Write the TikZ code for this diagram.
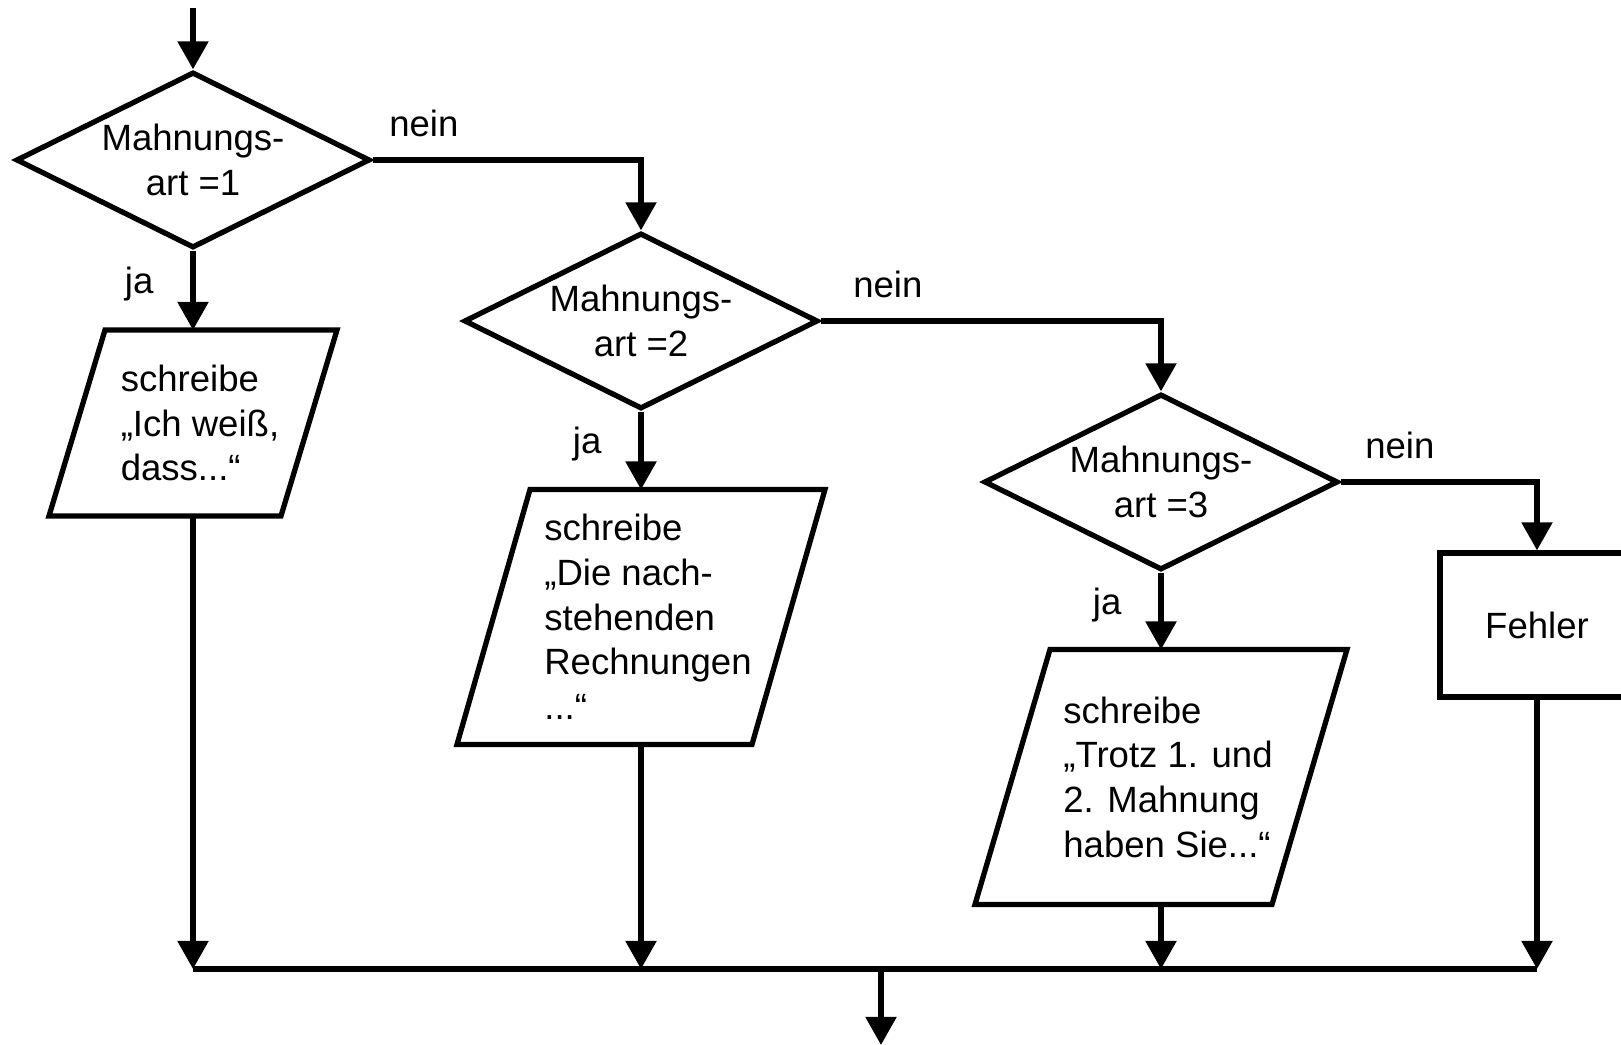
\documentclass[tikz,border=0pt]{standalone}
\usepackage{fontspec}
\setmainfont{Liberation Sans}
\usetikzlibrary{shapes.geometric,arrows.meta,positioning}

\begin{document}
\begin{tikzpicture}[
		line width=1.5pt,
		every node/.style={font=\fontsize{10.4}{12.7}\selectfont},
		arr/.style={-{Triangle[length=2.8mm,width=3mm]}},
		decision/.style={draw, diamond, aspect=2, inner sep=0pt, minimum width=3.54cm, minimum height=1.76cm, align=center},
		outbox/.style={rectangle, inner sep=0pt, outer sep=0pt},
		outtext/.style={inner sep=0pt, align=left},
		process/.style={draw, rectangle, minimum width=1.94cm, minimum height=1.44cm},
		lbl/.style={inner sep=0pt}
	]
		  \useasboundingbox (0,0) rectangle (16.21,10.45);

		  % draws the decisions
		  \node[decision] (d1) at (1.93,8.85) {Mahnungs-\\art =1};
		  \node[decision] (d2) at (6.41,7.24) {Mahnungs-\\art =2};
		  \node[decision] (d3) at (11.61,5.63) {Mahnungs-\\art =3};

		  % draws the outputs
		  \node[outbox, minimum width=2.88cm, minimum height=1.86cm] (p1) at (1.93,6.22) {};
		  \node[outbox, minimum width=3.68cm, minimum height=2.55cm] (p2) at (6.41,4.28) {};
		  \node[outbox, minimum width=3.72cm, minimum height=2.55cm] (p3) at (11.61,2.68) {};
		  \foreach \n/\s in {p1/0.56,p2/0.73,p3/0.75}
		    \draw ([xshift=\s cm]\n.north west) -- (\n.north east) -- ([xshift=-\s cm]\n.south east) -- (\n.south west) -- cycle;
		  \node[outtext] (t1) at ([xshift=0.07cm]p1.center) {schreibe\\„Ich weiß,\\dass...“};
		  \node[outtext] (t2) at ([xshift=0.07cm]p2.center) {schreibe\\„Die nach-\\stehenden\\Rechnungen\\...“};
		  \node[outtext] (t3) at ([xshift=0.07cm]p3.center) {schreibe\\„Trotz 1. und\\2. Mahnung\\haben Sie...“};
		  \node[process] (fe) at (15.37,4.20) {Fehler};

		  % draws the junction
		  \coordinate (in) at (1.93,10.37);
		  \coordinate (jl) at (1.93,0.76);
		  \coordinate (jr) at (15.37,0.76);
		  \coordinate (jm) at (8.81,0.76);
		  \coordinate (out) at (8.81,0);

		  % draws the connectors
		  \draw[arr] (in) -- (d1.north);
		  \foreach \a/\b in {d1/p1,d2/p2,d3/p3}
		    \draw[arr] (\a.south) -- node[lbl, pos=0.42, left=0.37cm] {ja} (\b.north);
		  \foreach \a/\b/\s in {d1/d2/0.14,d2/d3/0.30,d3/fe/0.22}
		    \draw[arr] (\a.east) node[lbl, above right=0.2cm and \s cm] {nein} -| (\b.north);
		  \foreach \n in {p1,p2,p3,fe}
		    \draw[arr] (\n.south) -- (\n.south |- jl);
		  \draw (jl) -- (jr);
		  \draw[arr] (jm) -- (out);
\end{tikzpicture}
\end{document}
